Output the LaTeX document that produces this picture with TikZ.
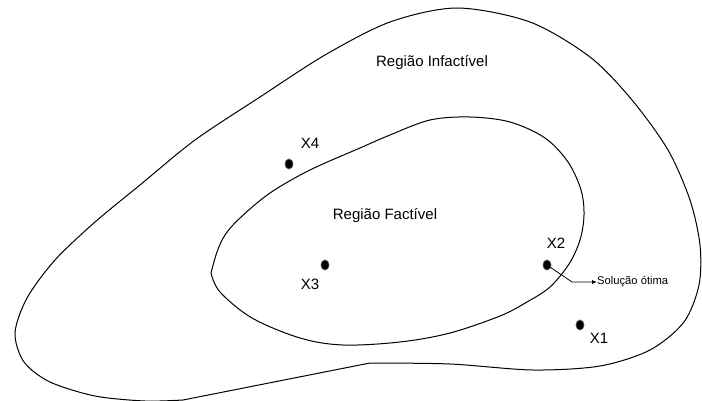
\documentclass[tikz,border=0pt]{standalone}
\usepackage{fontspec}
\setmainfont{Liberation Sans}
\usetikzlibrary{shapes.geometric,arrows.meta}
\begin{document}
\begin{tikzpicture}[x=1pt,y=-1pt,
  boundary/.style={draw=black,line width=1pt},
  pointdot/.style={ellipse,fill=black,draw=black!70,line width=0.7pt,
    minimum width=8pt,minimum height=10pt,inner sep=0pt},
  ptlabel/.style={font=\fontsize{15}{18}\selectfont,inner sep=0pt},
  region/.style={font=\fontsize{15}{18}\selectfont,inner sep=0pt},
  note/.style={font=\fontsize{11.2}{13}\selectfont,inner sep=0pt,anchor=west},
  pointer/.style={draw=black,line width=0.8pt,-{Latex[length=5pt,width=4pt]}}]
\useasboundingbox (0,0) rectangle (702,401);

% outer region (infeasible)
\draw[boundary] plot[smooth,tension=0.5] coordinates {
  (370,363) (450,364) (533,370) (600,366) (650,350) (684,322) (699,285)
  (700,245) (690,200) (668,150) (632,100) (590,57) (530,22) (457,8)
  (390,22) (325,55) (260,97) (195,140) (140,185) (95,222) (55,260)
  (27,298) (15,333) (24,362) (50,382) (95,396) (145,401) (183,400)
} -- cycle;

% inner region (feasible)
\draw[boundary] plot[smooth,tension=0.55] coordinates {
  (211,273) (217,252) (225,235) (240,218) (270,193) (310,170) (360,148)
  (390,135) (430,120) (470,117) (510,122) (545,138) (568,162) (581,190)
  (584,215) (580,240) (569,264) (550,287) (527,302) (500,316) (450,333)
  (400,342) (343,345) (300,338) (252,318) (220,292) (211,273)
};

% region captions
\node[region] (infeas) at (432,63) {Região Infactível};
\node[region] (feas) at (385,216) {Região Factível};

% candidate solutions
\node[pointdot] (x1) at (580,325) {};
\node[pointdot] (x2) at (547,265) {};
\node[pointdot] (x3) at (325,265) {};
\node[pointdot] (x4) at (289,164) {};

\node[ptlabel] (lx1) at (599,338) {X1};
\node[ptlabel] (lx2) at (556,243) {X2};
\node[ptlabel] (lx3) at (310,284) {X3};
\node[ptlabel] (lx4) at (310,143) {X4};

% optimum callout
\coordinate (bend) at (572,282);
\node[note] (opt) at (597,282) {Solução ótima};
\draw[pointer] (x2.center) -- (bend) -- (opt.west);
\end{tikzpicture}
\end{document}
